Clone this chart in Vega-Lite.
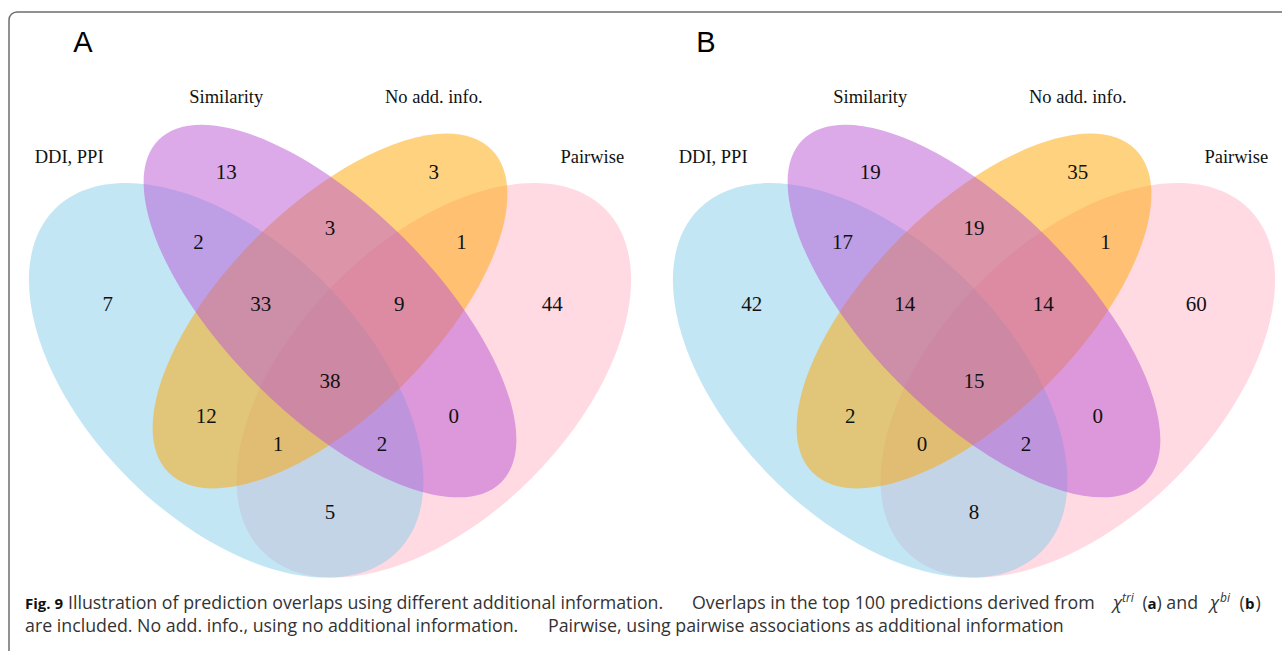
{
  "$schema": "https://vega.github.io/schema/vega-lite/v6.json",
  "width": 1273,
  "height": 639,
  "autosize": {"type": "none"},
  "padding": {"left": 9, "top": 12, "right": 0, "bottom": 0},
  "background": "white",
  "config": {"view": {"stroke": null}},
  "datasets": {
    "ellipses": [
      {"set": "Pairwise", "x": 0.65, "y": 0.47},
      {"set": "DDI, PPI", "x": 0.35, "y": 0.47},
      {"set": "No add. info.", "x": 0.5, "y": 0.57},
      {"set": "Similarity", "x": 0.5, "y": 0.57}
    ],
    "counts": [
      {"panel": "A", "region": "Similarity only", "n": 13, "x": 0.35, "y": 0.769},
      {"panel": "A", "region": "No add. info. only", "n": 3, "x": 0.65, "y": 0.769},
      {"panel": "A", "region": "DDI,PPI & Similarity", "n": 2, "x": 0.31, "y": 0.668},
      {"panel": "A", "region": "Similarity & No add. info.", "n": 3, "x": 0.5, "y": 0.688},
      {"panel": "A", "region": "No add. info. & Pairwise", "n": 1, "x": 0.69, "y": 0.668},
      {"panel": "A", "region": "DDI,PPI only", "n": 7, "x": 0.179, "y": 0.579},
      {"panel": "A", "region": "DDI,PPI & Similarity & No add. info.", "n": 33, "x": 0.4, "y": 0.579},
      {"panel": "A", "region": "Similarity & No add. info. & Pairwise", "n": 9, "x": 0.6, "y": 0.579},
      {"panel": "A", "region": "Pairwise only", "n": 44, "x": 0.821, "y": 0.579},
      {"panel": "A", "region": "All four", "n": 38, "x": 0.5, "y": 0.468},
      {"panel": "A", "region": "DDI,PPI & No add. info.", "n": 12, "x": 0.321, "y": 0.417},
      {"panel": "A", "region": "Similarity & Pairwise", "n": 0, "x": 0.679, "y": 0.417},
      {"panel": "A", "region": "DDI,PPI & No add. info. & Pairwise", "n": 1, "x": 0.425, "y": 0.377},
      {"panel": "A", "region": "DDI,PPI & Similarity & Pairwise", "n": 2, "x": 0.575, "y": 0.377},
      {"panel": "A", "region": "DDI,PPI & Pairwise", "n": 5, "x": 0.5, "y": 0.279},
      {"panel": "B", "region": "Similarity only", "n": 19, "x": 0.35, "y": 0.769},
      {"panel": "B", "region": "No add. info. only", "n": 35, "x": 0.65, "y": 0.769},
      {"panel": "B", "region": "DDI,PPI & Similarity", "n": 17, "x": 0.31, "y": 0.668},
      {"panel": "B", "region": "Similarity & No add. info.", "n": 19, "x": 0.5, "y": 0.688},
      {"panel": "B", "region": "No add. info. & Pairwise", "n": 1, "x": 0.69, "y": 0.668},
      {"panel": "B", "region": "DDI,PPI only", "n": 42, "x": 0.179, "y": 0.579},
      {"panel": "B", "region": "DDI,PPI & Similarity & No add. info.", "n": 14, "x": 0.4, "y": 0.579},
      {"panel": "B", "region": "Similarity & No add. info. & Pairwise", "n": 14, "x": 0.6, "y": 0.579},
      {"panel": "B", "region": "Pairwise only", "n": 60, "x": 0.821, "y": 0.579},
      {"panel": "B", "region": "All four", "n": 15, "x": 0.5, "y": 0.468},
      {"panel": "B", "region": "DDI,PPI & No add. info.", "n": 2, "x": 0.321, "y": 0.417},
      {"panel": "B", "region": "Similarity & Pairwise", "n": 0, "x": 0.679, "y": 0.417},
      {"panel": "B", "region": "DDI,PPI & No add. info. & Pairwise", "n": 0, "x": 0.425, "y": 0.377},
      {"panel": "B", "region": "DDI,PPI & Similarity & Pairwise", "n": 2, "x": 0.575, "y": 0.377},
      {"panel": "B", "region": "DDI,PPI & Pairwise", "n": 8, "x": 0.5, "y": 0.279}
    ],
    "categories": [
      {"label": "DDI, PPI", "x": 0.123, "y": 0.792},
      {"label": "Similarity", "x": 0.35, "y": 0.879},
      {"label": "No add. info.", "x": 0.65, "y": 0.879},
      {"label": "Pairwise", "x": 0.879, "y": 0.792}
    ],
    "panelA": [{"label": "A", "x": 0.1431, "y": 0.9567}],
    "panelB": [{"label": "B", "x": 0.1127, "y": 0.9567}],
    "capBold": [
      {"t": "Fig. 9", "x": 0.059249, "y": 0.1472},
      {"t": "a", "x": 1.681358, "y": 0.1472},
      {"t": "b", "x": 1.822254, "y": 0.1472}
    ],
    "capRegular": [
      {"t": "Illustration of prediction overlaps using different additional information.", "x": 0.121387, "y": 0.1472},
      {"t": "Overlaps in the top 100 predictions derived from", "x": 1.023121, "y": 0.1472},
      {"t": "(", "x": 1.674133, "y": 0.1472},
      {"t": ") and", "x": 1.694364, "y": 0.1472},
      {"t": "(", "x": 1.814306, "y": 0.1472},
      {"t": ")", "x": 1.837428, "y": 0.1472},
      {"t": "are included. No add. info., using no additional information.", "x": 0.059249, "y": 0.1140},
      {"t": "Pairwise, using pairwise associations as additional information", "x": 0.815029, "y": 0.1140}
    ],
    "capItalic": [
      {"t": "χ", "x": 1.631503, "y": 0.1472},
      {"t": "χ", "x": 1.771676, "y": 0.1472}
    ],
    "capSup": [
      {"t": "tri", "x": 1.644509, "y": 0.15586},
      {"t": "bi", "x": 1.786127, "y": 0.15586}
    ]
  },
  "layer": [
    {
      "data": {"values": [{}]},
      "mark": {"type": "rect", "fill": "white", "fillOpacity": 0, "stroke": "#6e6e6e", "strokeWidth": 1.5, "cornerRadius": 8},
      "encoding": {
        "x": {"value": 0},
        "y": {"value": 0},
        "x2": {"value": {"expr": "width + 40"}},
        "y2": {"value": {"expr": "height + 40"}}
      }
    },
    {
      "layer": [
        {
          "data": {"name": "ellipses"},
          "mark": {"type": "point", "filled": true, "opacity": 0.5, "size": 234643, "strokeWidth": 0},
          "encoding": {
            "x": {"field": "x", "type": "quantitative", "scale": {"domain": [0.036127, 1.875723], "nice": false, "zero": false}, "axis": null},
            "y": {"field": "y", "type": "quantitative", "scale": {"domain": [0.07938, 1.001457], "nice": false, "zero": false}, "axis": null},
            "color": {"field": "set", "type": "nominal", "legend": null, "scale": {"domain": ["DDI, PPI", "Similarity", "No add. info.", "Pairwise"], "range": ["#87CEEB", "#BA55D3", "#FFA500", "#FFB5C5"]}},
            "shape": {"field": "set", "type": "nominal", "legend": null, "scale": {"domain": ["DDI, PPI", "Similarity", "No add. info.", "Pairwise"], "range": [
              "M0.707107,0.707107C0.48395,0.930264,-0.013532,0.79459,-0.404061,0.404061C-0.79459,0.013532,-0.930264,-0.48395,-0.707107,-0.707107C-0.48395,-0.930264,0.013532,-0.79459,0.404061,-0.404061C0.79459,-0.013532,0.930264,0.48395,0.707107,0.707107Z",
              "M0.707107,0.707107C0.539739,0.874475,0.087483,0.693575,-0.303046,0.303046C-0.693575,-0.087483,-0.874475,-0.539739,-0.707107,-0.707107C-0.539739,-0.874475,-0.087483,-0.693575,0.303046,-0.303046C0.693575,0.087483,0.874475,0.539739,0.707107,0.707107Z",
              "M-0.666701,0.666701C-0.499333,0.834069,-0.065163,0.671255,0.303046,0.303046C0.671255,-0.065163,0.834069,-0.499333,0.666701,-0.666701C0.499333,-0.834069,0.065163,-0.671255,-0.303046,-0.303046C-0.671255,0.065163,-0.834069,0.499333,-0.666701,0.666701Z",
              "M-0.707107,0.707107C-0.48395,0.930264,0.013532,0.79459,0.404061,0.404061C0.79459,0.013532,0.930264,-0.48395,0.707107,-0.707107C0.48395,-0.930264,-0.013532,-0.79459,-0.404061,-0.404061C-0.79459,-0.013532,-0.930264,0.48395,-0.707107,0.707107Z"
            ]}}
          }
        },
        {
          "data": {"name": "counts"},
          "transform": [{"filter": "datum.panel === 'A'"}],
          "mark": {"type": "text", "font": "Liberation Serif", "fontSize": 21, "color": "#111111", "align": "center", "baseline": "middle"},
          "encoding": {
            "x": {"field": "x", "type": "quantitative", "scale": {"domain": [0.036127, 1.875723], "nice": false, "zero": false}, "axis": null},
            "y": {"field": "y", "type": "quantitative", "scale": {"domain": [0.07938, 1.001457], "nice": false, "zero": false}, "axis": null},
            "text": {"field": "n", "type": "quantitative"}
          }
        },
        {
          "data": {"name": "categories"},
          "mark": {"type": "text", "font": "Liberation Serif", "fontSize": 18.5, "color": "#111111", "align": "center", "baseline": "middle"},
          "encoding": {
            "x": {"field": "x", "type": "quantitative", "scale": {"domain": [0.036127, 1.875723], "nice": false, "zero": false}, "axis": null},
            "y": {"field": "y", "type": "quantitative", "scale": {"domain": [0.07938, 1.001457], "nice": false, "zero": false}, "axis": null},
            "text": {"field": "label", "type": "nominal"}
          }
        },
        {
          "data": {"name": "panelA"},
          "mark": {"type": "text", "font": "Liberation Sans", "fontSize": 29, "color": "#000000", "align": "center", "baseline": "middle"},
          "encoding": {
            "x": {"field": "x", "type": "quantitative", "scale": {"domain": [0.036127, 1.875723], "nice": false, "zero": false}, "axis": null},
            "y": {"field": "y", "type": "quantitative", "scale": {"domain": [0.07938, 1.001457], "nice": false, "zero": false}, "axis": null},
            "text": {"field": "label", "type": "nominal"}
          }
        },
        {
          "data": {"name": "capBold"},
          "mark": {"type": "text", "font": "Open Sans", "fontSize": 15, "fontWeight": "bold", "color": "#111111", "align": "left", "baseline": "middle"},
          "encoding": {
            "x": {"field": "x", "type": "quantitative", "scale": {"domain": [0.036127, 1.875723], "nice": false, "zero": false}, "axis": null},
            "y": {"field": "y", "type": "quantitative", "scale": {"domain": [0.07938, 1.001457], "nice": false, "zero": false}, "axis": null},
            "text": {"field": "t", "type": "nominal"}
          }
        },
        {
          "data": {"name": "capRegular"},
          "mark": {"type": "text", "font": "Open Sans", "fontSize": 17.8, "color": "#333333", "align": "left", "baseline": "middle"},
          "encoding": {
            "x": {"field": "x", "type": "quantitative", "scale": {"domain": [0.036127, 1.875723], "nice": false, "zero": false}, "axis": null},
            "y": {"field": "y", "type": "quantitative", "scale": {"domain": [0.07938, 1.001457], "nice": false, "zero": false}, "axis": null},
            "text": {"field": "t", "type": "nominal"}
          }
        },
        {
          "data": {"name": "capItalic"},
          "mark": {"type": "text", "font": "Open Sans", "fontSize": 17.8, "fontStyle": "italic", "color": "#333333", "align": "left", "baseline": "middle"},
          "encoding": {
            "x": {"field": "x", "type": "quantitative", "scale": {"domain": [0.036127, 1.875723], "nice": false, "zero": false}, "axis": null},
            "y": {"field": "y", "type": "quantitative", "scale": {"domain": [0.07938, 1.001457], "nice": false, "zero": false}, "axis": null},
            "text": {"field": "t", "type": "nominal"}
          }
        },
        {
          "data": {"name": "capSup"},
          "mark": {"type": "text", "font": "Open Sans", "fontSize": 12, "fontStyle": "italic", "color": "#333333", "align": "left", "baseline": "middle"},
          "encoding": {
            "x": {"field": "x", "type": "quantitative", "scale": {"domain": [0.036127, 1.875723], "nice": false, "zero": false}, "axis": null},
            "y": {"field": "y", "type": "quantitative", "scale": {"domain": [0.07938, 1.001457], "nice": false, "zero": false}, "axis": null},
            "text": {"field": "t", "type": "nominal"}
          }
        }
      ]
    },
    {
      "layer": [
        {
          "data": {"name": "ellipses"},
          "mark": {"type": "point", "filled": true, "opacity": 0.5, "size": 234643, "strokeWidth": 0},
          "encoding": {
            "x": {"field": "x", "type": "quantitative", "scale": {"domain": [-0.894509, 0.945087], "nice": false, "zero": false}, "axis": null},
            "y": {"field": "y", "type": "quantitative", "scale": {"domain": [0.07938, 1.001457], "nice": false, "zero": false}, "axis": null},
            "color": {"field": "set", "type": "nominal", "legend": null},
            "shape": {"field": "set", "type": "nominal", "legend": null}
          }
        },
        {
          "data": {"name": "counts"},
          "transform": [{"filter": "datum.panel === 'B'"}],
          "mark": {"type": "text", "font": "Liberation Serif", "fontSize": 21, "color": "#111111", "align": "center", "baseline": "middle"},
          "encoding": {
            "x": {"field": "x", "type": "quantitative", "scale": {"domain": [-0.894509, 0.945087], "nice": false, "zero": false}, "axis": null},
            "y": {"field": "y", "type": "quantitative", "scale": {"domain": [0.07938, 1.001457], "nice": false, "zero": false}, "axis": null},
            "text": {"field": "n", "type": "quantitative"}
          }
        },
        {
          "data": {"name": "categories"},
          "mark": {"type": "text", "font": "Liberation Serif", "fontSize": 18.5, "color": "#111111", "align": "center", "baseline": "middle"},
          "encoding": {
            "x": {"field": "x", "type": "quantitative", "scale": {"domain": [-0.894509, 0.945087], "nice": false, "zero": false}, "axis": null},
            "y": {"field": "y", "type": "quantitative", "scale": {"domain": [0.07938, 1.001457], "nice": false, "zero": false}, "axis": null},
            "text": {"field": "label", "type": "nominal"}
          }
        },
        {
          "data": {"name": "panelB"},
          "mark": {"type": "text", "font": "Liberation Sans", "fontSize": 29, "color": "#000000", "align": "center", "baseline": "middle"},
          "encoding": {
            "x": {"field": "x", "type": "quantitative", "scale": {"domain": [-0.894509, 0.945087], "nice": false, "zero": false}, "axis": null},
            "y": {"field": "y", "type": "quantitative", "scale": {"domain": [0.07938, 1.001457], "nice": false, "zero": false}, "axis": null},
            "text": {"field": "label", "type": "nominal"}
          }
        }
      ]
    }
  ],
  "resolve": {"scale": {"x": "independent"}}
}
